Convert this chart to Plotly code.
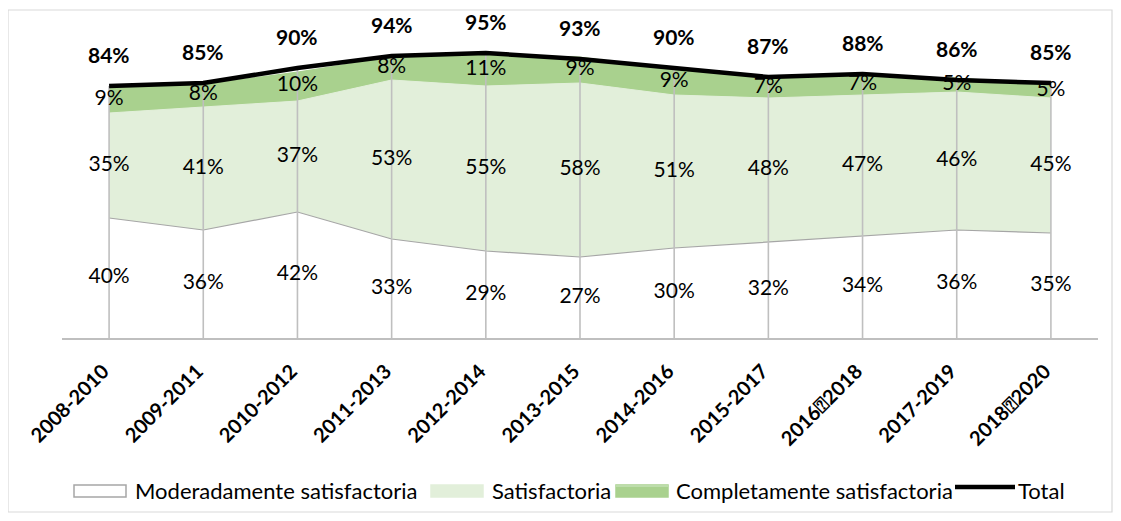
import plotly.graph_objects as go

categories = ["2008-2010", "2009-2011", "2010-2012", "2011-2013", "2012-2014",
              "2013-2015", "2014-2016", "2015-2017", "2016\u23702018", "2017-2019", "2018\u23702020"]
moderadamente = [40, 36, 42, 33, 29, 27, 30, 32, 34, 36, 35]
satisfactoria = [35, 41, 37, 53, 55, 58, 51, 48, 47, 46, 45]
completamente = [9, 8, 10, 8, 11, 9, 9, 7, 7, 5, 5]
total = [84, 85, 90, 94, 95, 93, 90, 87, 88, 86, 85]
legend_names = ["Moderadamente satisfactoria", "Satisfactoria", "Completamente satisfactoria", "Total"]

FONT = "Lato"
GRAY = "#BFBFBF"
C_MOD = "#FFFFFF"
C_SAT = "#E2EFDA"
C_COM = "#A9D18E"

# page body has an 8px margin; figure is sized to fit the window
OFF = 8
W, H = 1105, 505
L, T = 62 - OFF, 38 - OFF
PW, PH = 1036, 300
R, B = W - L - PW, H - T - PH


def px(x):  # page pixel -> paper x
    return (x - OFF - L) / PW


def py(y):  # page pixel -> paper y
    return (T + PH - (y - OFF)) / PH


fig = go.Figure()

fig.add_trace(go.Scatter(
    x=categories, y=moderadamente, name=legend_names[0],
    mode="lines", stackgroup="s", fillcolor=C_MOD,
    line=dict(color="#A6A6A6", width=1.2), hoverinfo="skip", showlegend=False))
fig.add_trace(go.Scatter(
    x=categories, y=satisfactoria, name=legend_names[1],
    mode="lines", stackgroup="s", fillcolor=C_SAT,
    line=dict(color=C_SAT, width=1), hoverinfo="skip", showlegend=False))
fig.add_trace(go.Scatter(
    x=categories, y=completamente, name=legend_names[2],
    mode="lines", stackgroup="s", fillcolor=C_COM,
    line=dict(color="#FFFFFF", width=1.2), hoverinfo="skip", showlegend=False))

# drop lines from the total down to the axis
dx, dy = [], []
for c, t in zip(categories, total):
    dx += [c, c, None]
    dy += [0, t, None]
fig.add_trace(go.Scatter(x=dx, y=dy, mode="lines", line=dict(color=GRAY, width=1.6),
                         showlegend=False, hoverinfo="skip"))

fig.add_trace(go.Scatter(
    x=categories, y=total, name=legend_names[3], mode="lines",
    line=dict(color="#000000", width=4.5), hoverinfo="skip", showlegend=False))

# data labels (centered in each band)
m_mid = [m / 2 for m in moderadamente]
s_mid = [m + s / 2 for m, s in zip(moderadamente, satisfactoria)]
c_mid = [m + s + c / 2 for m, s, c in zip(moderadamente, satisfactoria, completamente)]
for vals, mids in [(moderadamente, m_mid), (satisfactoria, s_mid), (completamente, c_mid)]:
    fig.add_trace(go.Scatter(
        x=categories, y=mids, mode="text", text=[f"{v}%" for v in vals],
        textposition="middle center", textfont=dict(family=FONT, size=21, color="#000000"),
        showlegend=False, hoverinfo="skip", cliponaxis=False))

annotations = []
for c, t in zip(categories, total):
    annotations.append(dict(x=c, y=t, text=f"<b>{t}%</b>", showarrow=False, yshift=32,
                            font=dict(family=FONT, size=21, color="#000000")))

# manual legend
LY = 491
shapes = [dict(type="rect", xref="paper", yref="paper",
               x0=px(8), x1=px(1112), y0=py(512), y1=py(10),
               line=dict(color="#D9D9D9", width=1.2), fillcolor="rgba(0,0,0,0)", layer="below")]
legend_items = [
    ("box", 74, 126, 133, C_MOD, "#A6A6A6"),
    ("box", 431, 483, 490, C_SAT, C_SAT),
    ("box", 616, 668, 674, C_COM, C_COM),
    ("line", 955, 1015, 1016, "#000000", "#000000"),
]
for (kind, x0, x1, tx, fc, lc), name in zip(legend_items, legend_names):
    if kind == "box":
        shapes.append(dict(type="rect", xref="paper", yref="paper",
                           x0=px(x0), x1=px(x1), y0=py(LY + 6), y1=py(LY - 6),
                           line=dict(color=lc, width=1.5), fillcolor=fc))
        if fc == C_COM:
            shapes.append(dict(type="line", xref="paper", yref="paper",
                               x0=px(x0), x1=px(x1), y0=py(LY - 5), y1=py(LY - 5),
                               line=dict(color="#C5E0B4", width=1.5)))
    else:
        shapes.append(dict(type="line", xref="paper", yref="paper",
                           x0=px(x0), x1=px(x1), y0=py(LY - 4), y1=py(LY - 4),
                           line=dict(color=lc, width=4.5)))
    annotations.append(dict(xref="paper", yref="paper", x=px(tx), y=py(LY - 1),
                            xanchor="left", yanchor="middle", showarrow=False, text=name,
                            font=dict(family=FONT, size=22, color="#000000")))

fig.update_layout(
    width=W, height=H,
    margin=dict(l=L, r=R, t=T, b=B, autoexpand=False),
    paper_bgcolor="#FFFFFF", plot_bgcolor="#FFFFFF",
    font=dict(family=FONT, size=20, color="#000000"),
    showlegend=False,
    xaxis=dict(type="category", range=[-0.5, 10.5], showgrid=False, zeroline=False,
               showline=True, linecolor=GRAY, linewidth=1.6, ticks="",
               tickangle=-45, ticklabelstandoff=12, ticklabelshift=-6,
               tickfont=dict(family=FONT, size=20, color="#000000", weight="bold")),
    yaxis=dict(range=[0, 100], visible=False, showgrid=False, zeroline=False),
    shapes=shapes,
    annotations=annotations,
)

fig.write_html("out.html")
